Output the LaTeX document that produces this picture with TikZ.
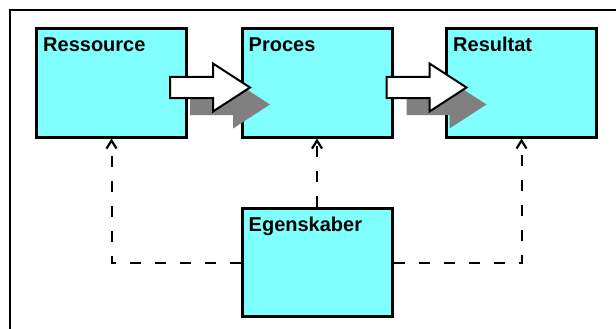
\documentclass[tikz,border=0pt]{standalone}
\usepackage{fontspec}
\usepackage{tikz}
\usetikzlibrary{arrows.meta,calc}
\newfontfamily\boxfont{Liberation Sans}
\definecolor{boxcyan}{RGB}{128,255,255}
\definecolor{arrowshade}{RGB}{128,128,128}

\tikzset{
  block/.style={draw=black,line width=3pt,fill=boxcyan,rectangle,
    minimum width=150pt,minimum height=108pt,inner sep=0pt},
  title/.style={anchor=base west,xshift=8pt,yshift=-24pt,inner sep=0pt,
    font=\fontsize{20}{24}\selectfont\boxfont\bfseries},
  dep/.style={line width=2pt,dash pattern=on 11pt off 14pt,
    -{Straight Barb[length=8pt,width=10pt,line width=2.2pt]}},
  % fat block arrow with its flat grey shadow; origin = middle of the tail
  fatarrow/.pic={
    \fill[arrowshade,shift={(20,17)}] (0,-10.5) -- (43,-10.5) -- (43,-24)
      -- (80,0) -- (43,24) -- (43,10.5) -- (0,10.5) -- cycle;
    \draw[fill=white,line width=2pt,line join=miter] (0,-10.5) -- (43,-10.5)
      -- (43,-24) -- (80,0) -- (43,24) -- (43,10.5) -- (0,10.5) -- cycle;
  }
}

\begin{document}
\begin{tikzpicture}[x=1pt,y=-1pt]
  % canvas, pixel-like units (y grows downward)
  \useasboundingbox (0,0) rectangle (616,329);
  \fill[white] (0,0) rectangle (616,329);
  % outer frame, only top and left edge are in view
  \draw[line width=1.3pt] (10,329) -- (10,10) -- (616,10);

  % the three stages and the properties box
  \node[block,label={[title]north west:Ressource}] (res) at (111.5,83) {};
  \node[block,label={[title]north west:Proces}] (proc) at (317,83) {};
  \node[block,label={[title]north west:Resultat}] (rslt) at (521.5,83) {};
  \node[block,label={[title]north west:Egenskaber}] (prop) at (317,262.5) {};

  % flow between the stages
  \pic at ($(res.east)+(-18,4.5)$) {fatarrow};
  \pic at ($(proc.east)+(-7,4.5)$) {fatarrow};

  % properties feed back to every stage
  \draw[dep] (prop.west) -| (res.south);
  \draw[dep] (prop.north) -- (proc.south);
  \draw[dep] (prop.east) -| (rslt.south);
\end{tikzpicture}
\end{document}
